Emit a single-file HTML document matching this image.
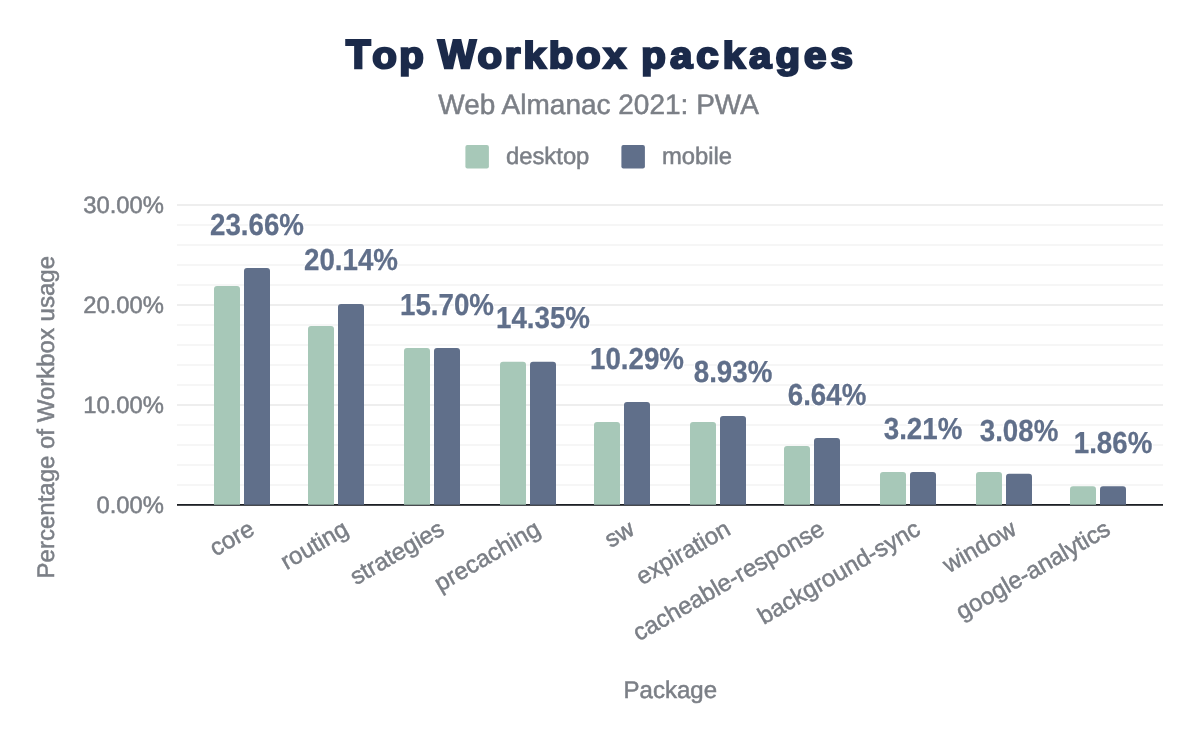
<!DOCTYPE html>
<html><head><meta charset="utf-8"><style>
html,body{margin:0;padding:0;background:#fff;}
svg{display:block;will-change:transform;}
text{font-family:"Liberation Sans",Arial,sans-serif;text-rendering:geometricPrecision;}
.ax{font-size:23.8px;fill:#7b7f86;stroke:#7b7f86;stroke-width:0.5px;}
.val{font-size:27.7px;font-weight:bold;fill:#606f8a;stroke:#606f8a;stroke-width:0.25px;}
.halo{font-size:27.7px;font-weight:bold;fill:#fff;stroke:#fff;stroke-width:2.5px;}
.title{font-size:40.2px;font-weight:bold;fill:#1b2a4a;}
.xl{font-size:24px;fill:#7b7f86;stroke:#7b7f86;stroke-width:0.5px;}
.axt{font-size:24px;fill:#7b7f86;stroke:#7b7f86;stroke-width:0.5px;}
.sub{font-size:28px;fill:#7b7f86;stroke:#7b7f86;stroke-width:0.5px;}
</style></head><body>
<svg width="1200" height="742" viewBox="0 0 1200 742">
<rect width="1200" height="742" fill="#fff"/>
<g class="title" stroke="#1b2a4a" stroke-width="2.5"><text x="346.1" y="68.2">T</text><text x="0" y="0" textLength="51.5" lengthAdjust="spacing" transform="translate(372.3 68.2) scale(1 0.925)">op</text><text x="438.0" y="68.2">W</text><text x="0" y="0" textLength="148.5" lengthAdjust="spacing" transform="translate(477.4 68.2) scale(1 0.925)">orkbox</text><text x="0" y="0" textLength="211.5" lengthAdjust="spacing" transform="translate(641.3 68.2) scale(1 0.925)">packages</text></g>
<text x="598.6" y="113.8" text-anchor="middle" class="sub">Web Almanac 2021: PWA</text>
<rect x="465.4" y="145" width="23.5" height="23.5" rx="2" fill="#a7c8b8"/>
<text x="506" y="163.7" class="ax">desktop</text>
<rect x="621.4" y="145" width="23.5" height="23.5" rx="2" fill="#606f8a"/>
<text x="662" y="163.7" class="ax">mobile</text>
<rect x="177" y="484" width="986" height="2" fill="#f6f6f6"/><rect x="177" y="464" width="986" height="2" fill="#f6f6f6"/><rect x="177" y="444" width="986" height="2" fill="#f6f6f6"/><rect x="177" y="424" width="986" height="2" fill="#f6f6f6"/><rect x="177" y="404" width="986" height="2" fill="#eeeeee"/><rect x="177" y="384" width="986" height="2" fill="#f6f6f6"/><rect x="177" y="364" width="986" height="2" fill="#f6f6f6"/><rect x="177" y="344" width="986" height="2" fill="#f6f6f6"/><rect x="177" y="324" width="986" height="2" fill="#f6f6f6"/><rect x="177" y="304" width="986" height="2" fill="#eeeeee"/><rect x="177" y="284" width="986" height="2" fill="#f6f6f6"/><rect x="177" y="264" width="986" height="2" fill="#f6f6f6"/><rect x="177" y="244" width="986" height="2" fill="#f6f6f6"/><rect x="177" y="224" width="986" height="2" fill="#f6f6f6"/><rect x="177" y="204" width="986" height="2" fill="#eeeeee"/>
<rect x="177" y="504" width="986" height="1.8" fill="#1d2025"/>
<path d="M214 504.7V288.90Q214 285.90 217 285.90H237Q240 285.90 240 288.90V504.7Z" fill="#a7c8b8"/><path d="M244 504.7V271.10Q244 268.10 247 268.10H267Q270 268.10 270 271.10V504.7Z" fill="#606f8a"/><path d="M308 504.7V329.10Q308 326.10 311 326.10H331Q334 326.10 334 329.10V504.7Z" fill="#a7c8b8"/><path d="M338 504.7V306.90Q338 303.90 341 303.90H361Q364 303.90 364 306.90V504.7Z" fill="#606f8a"/><path d="M404 504.7V351.00Q404 348.00 407 348.00H427Q430 348.00 430 351.00V504.7Z" fill="#a7c8b8"/><path d="M434 504.7V351.00Q434 348.00 437 348.00H457Q460 348.00 460 351.00V504.7Z" fill="#606f8a"/><path d="M500 504.7V364.80Q500 361.80 503 361.80H523Q526 361.80 526 364.80V504.7Z" fill="#a7c8b8"/><path d="M530 504.7V364.80Q530 361.80 533 361.80H553Q556 361.80 556 364.80V504.7Z" fill="#606f8a"/><path d="M594 504.7V424.90Q594 421.90 597 421.90H617Q620 421.90 620 424.90V504.7Z" fill="#a7c8b8"/><path d="M624 504.7V404.90Q624 401.90 627 401.90H647Q650 401.90 650 404.90V504.7Z" fill="#606f8a"/><path d="M690 504.7V424.90Q690 421.90 693 421.90H713Q716 421.90 716 424.90V504.7Z" fill="#a7c8b8"/><path d="M720 504.7V419.00Q720 416.00 723 416.00H743Q746 416.00 746 419.00V504.7Z" fill="#606f8a"/><path d="M784 504.7V449.00Q784 446.00 787 446.00H807Q810 446.00 810 449.00V504.7Z" fill="#a7c8b8"/><path d="M814 504.7V441.10Q814 438.10 817 438.10H837Q840 438.10 840 441.10V504.7Z" fill="#606f8a"/><path d="M880 504.7V475.10Q880 472.10 883 472.10H903Q906 472.10 906 475.10V504.7Z" fill="#a7c8b8"/><path d="M910 504.7V475.10Q910 472.10 913 472.10H933Q936 472.10 936 475.10V504.7Z" fill="#606f8a"/><path d="M976 504.7V475.00Q976 472.00 979 472.00H999Q1002 472.00 1002 475.00V504.7Z" fill="#a7c8b8"/><path d="M1006 504.7V476.80Q1006 473.80 1009 473.80H1029Q1032 473.80 1032 476.80V504.7Z" fill="#606f8a"/><path d="M1070 504.7V489.20Q1070 486.20 1073 486.20H1093Q1096 486.20 1096 489.20V504.7Z" fill="#a7c8b8"/><path d="M1100 504.7V489.20Q1100 486.20 1103 486.20H1123Q1126 486.20 1126 489.20V504.7Z" fill="#606f8a"/>
<text x="0" y="0" text-anchor="middle" class="halo" transform="translate(257.0 235.1) scale(1 1.10)">23.66%</text><text x="0" y="0" text-anchor="middle" class="halo" transform="translate(351.0 269.9) scale(1 1.10)">20.14%</text><text x="0" y="0" text-anchor="middle" class="halo" transform="translate(447.0 315.0) scale(1 1.10)">15.70%</text><text x="0" y="0" text-anchor="middle" class="halo" transform="translate(543.0 327.8) scale(1 1.10)">14.35%</text><text x="0" y="0" text-anchor="middle" class="halo" transform="translate(637.0 368.9) scale(1 1.10)">10.29%</text><text x="0" y="0" text-anchor="middle" class="halo" transform="translate(733.0 382.2) scale(1 1.10)">8.93%</text><text x="0" y="0" text-anchor="middle" class="halo" transform="translate(827.0 405.1) scale(1 1.10)">6.64%</text><text x="0" y="0" text-anchor="middle" class="halo" transform="translate(923.0 439.1) scale(1 1.10)">3.21%</text><text x="0" y="0" text-anchor="middle" class="halo" transform="translate(1019.0 440.8) scale(1 1.10)">3.08%</text><text x="0" y="0" text-anchor="middle" class="halo" transform="translate(1113.0 453.2) scale(1 1.10)">1.86%</text>
<text x="0" y="0" text-anchor="middle" class="val" transform="translate(257.0 235.1) scale(1 1.10)">23.66%</text><text x="0" y="0" text-anchor="middle" class="val" transform="translate(351.0 269.9) scale(1 1.10)">20.14%</text><text x="0" y="0" text-anchor="middle" class="val" transform="translate(447.0 315.0) scale(1 1.10)">15.70%</text><text x="0" y="0" text-anchor="middle" class="val" transform="translate(543.0 327.8) scale(1 1.10)">14.35%</text><text x="0" y="0" text-anchor="middle" class="val" transform="translate(637.0 368.9) scale(1 1.10)">10.29%</text><text x="0" y="0" text-anchor="middle" class="val" transform="translate(733.0 382.2) scale(1 1.10)">8.93%</text><text x="0" y="0" text-anchor="middle" class="val" transform="translate(827.0 405.1) scale(1 1.10)">6.64%</text><text x="0" y="0" text-anchor="middle" class="val" transform="translate(923.0 439.1) scale(1 1.10)">3.21%</text><text x="0" y="0" text-anchor="middle" class="val" transform="translate(1019.0 440.8) scale(1 1.10)">3.08%</text><text x="0" y="0" text-anchor="middle" class="val" transform="translate(1113.0 453.2) scale(1 1.10)">1.86%</text>
<text x="164" y="512.7" text-anchor="end" class="ax">0.00%</text><text x="164" y="412.7" text-anchor="end" class="ax">10.00%</text><text x="164" y="312.7" text-anchor="end" class="ax">20.00%</text><text x="164" y="212.7" text-anchor="end" class="ax">30.00%</text>
<text x="256" y="533.5" text-anchor="end" class="xl" transform="rotate(-30 256 533.5)">core</text><text x="350" y="533.5" text-anchor="end" class="xl" transform="rotate(-30 350 533.5)">routing</text><text x="446" y="533.5" text-anchor="end" class="xl" transform="rotate(-30 446 533.5)">strategies</text><text x="542" y="533.5" text-anchor="end" class="xl" transform="rotate(-30 542 533.5)">precaching</text><text x="636" y="533.5" text-anchor="end" class="xl" transform="rotate(-30 636 533.5)">sw</text><text x="732" y="533.5" text-anchor="end" class="xl" transform="rotate(-30 732 533.5)">expiration</text><text x="826" y="533.5" text-anchor="end" class="xl" transform="rotate(-30 826 533.5)">cacheable-response</text><text x="922" y="533.5" text-anchor="end" class="xl" transform="rotate(-30 922 533.5)">background-sync</text><text x="1018" y="533.5" text-anchor="end" class="xl" transform="rotate(-30 1018 533.5)">window</text><text x="1112" y="533.5" text-anchor="end" class="xl" transform="rotate(-30 1112 533.5)">google-analytics</text>
<text x="670.3" y="698" text-anchor="middle" class="axt">Package</text>
<text x="54" y="417.2" text-anchor="middle" class="axt" transform="rotate(-90 54 417.2)">Percentage of Workbox usage</text>
</svg>
</body></html>
